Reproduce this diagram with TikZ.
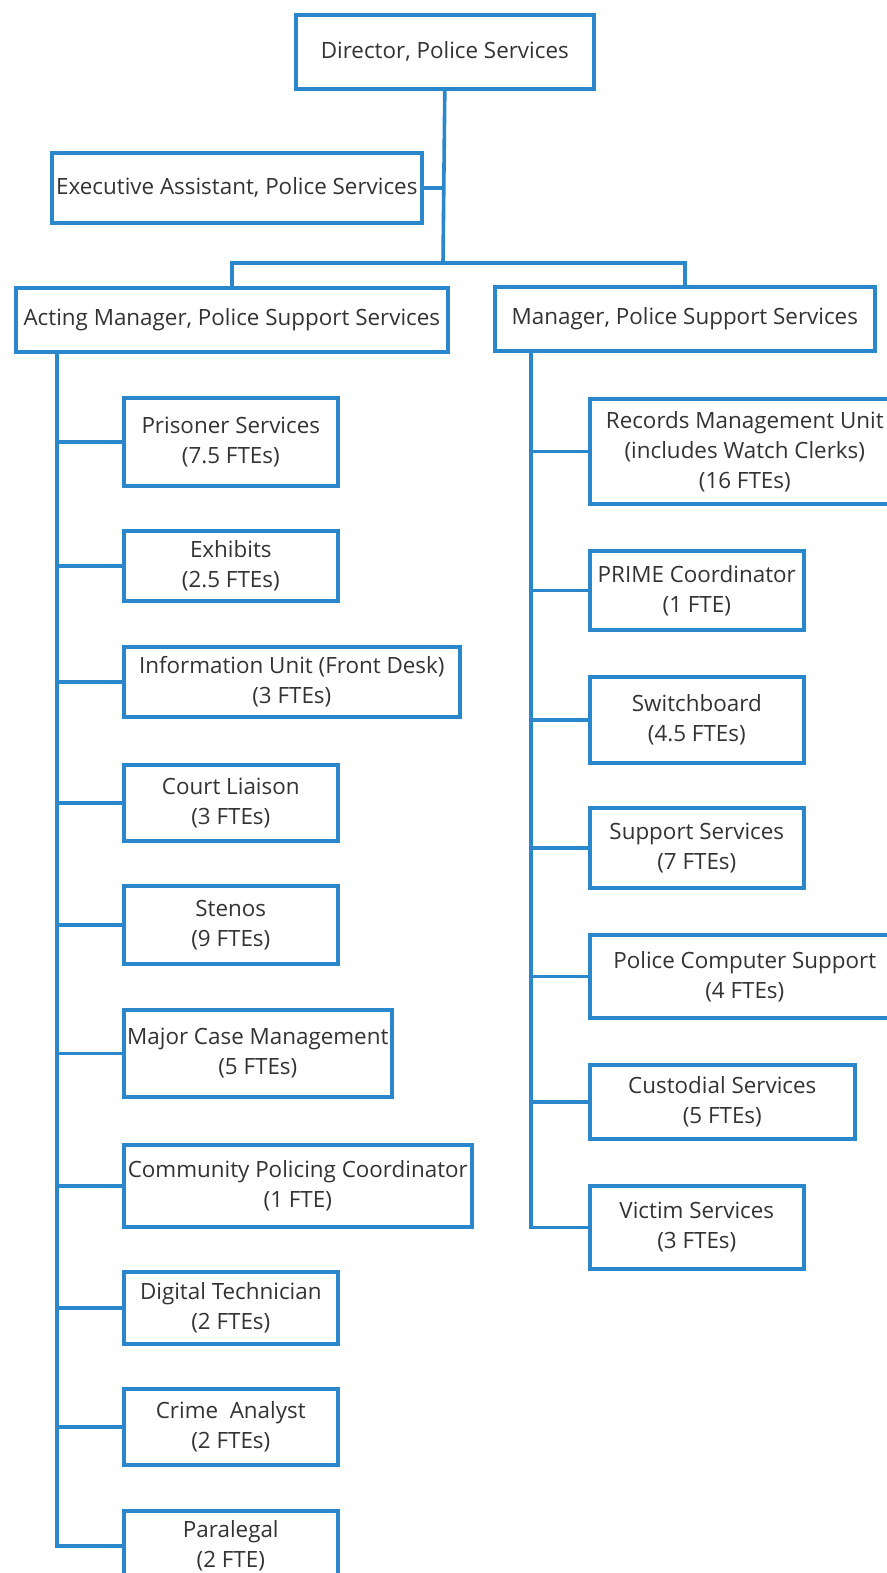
\documentclass[tikz,border=0pt]{standalone}
\usepackage{fontspec}
\setmainfont{Open Sans}
\definecolor{OrgBlue}{RGB}{43,135,203}
\definecolor{OrgInk}{RGB}{51,51,51}
\usetikzlibrary{positioning, calc}
\tikzset{
	unit/.style={draw=OrgBlue, line width=3.6pt, align=center, inner sep=0pt,
		anchor=north west, text=OrgInk, fill=white},
	link/.style={draw=OrgBlue, line width=3.6pt},
}
\begin{document}
\begin{tikzpicture}[x=1pt, y=-1pt, font=\fontsize{22.4}{30}\selectfont]
	\useasboundingbox (0,0) rectangle (886,1573);
	\node[unit, minimum width=298pt, minimum height=74pt] (dir) at (294,13) {Director, Police Services};
	\node[unit, minimum width=370pt, minimum height=70pt] (ea) at (50,151) {Executive Assistant, Police Services};
	\node[unit, minimum width=432pt, minimum height=64pt] (am) at (14,286) {Acting Manager, Police Support Services};
	\node[unit, minimum width=380pt, minimum height=64pt] (mg) at (493,285) {Manager, Police Support Services};
	\coordinate (bar) at (443,263);
	\coordinate (lsp) at (57,350);
	\coordinate (rsp) at (531,349);
	\draw[link] (dir.south) -- (bar);
	\draw[link] (ea.east) -- (ea.east -| bar);
	\draw[link] (am.north) |- (bar) -| (mg.north);
	\foreach \i/\y/\w/\h/\lab in {
		1/396/214/88/{Prisoner Services\\(7.5 FTEs)},
		2/529/214/70/{Exhibits\\(2.5 FTEs)},
		3/645/336/70/{Information Unit (Front Desk)\\(3 FTEs)},
		4/763/214/76/{Court Liaison\\(3 FTEs)},
		5/884/214/78/{Stenos\\(9 FTEs)},
		6/1008/268/87/{Major Case Management\\(5 FTEs)},
		7/1143/348/82/{Community Policing Coordinator\\(1 FTE)},
		8/1270/214/72/{Digital Technician\\(2 FTEs)},
		9/1387/214/76/{Crime~ Analyst\\(2 FTEs)},
		10/1509/214/70/{Paralegal\\(2 FTE)}}{
		\node[unit, minimum width=\w pt, minimum height=\h pt] (l\i) at (122,\y) {\lab};
		\draw[link] (lsp |- l\i.west) -- (l\i.west);
	}
	\foreach \i/\y/\w/\h/\lab in {
		1/397/310/105/{Records Management Unit\\(includes Watch Clerks)\\(16 FTEs)},
		2/549/214/79/{PRIME Coordinator\\(1 FTE)},
		3/675/214/86/{Switchboard\\(4.5 FTEs)},
		4/806/214/80/{Support Services\\(7 FTEs)},
		5/933/310/83/{Police Computer Support\\(4 FTEs)},
		6/1063/265/74/{Custodial Services\\(5 FTEs)},
		7/1184/214/83/{Victim Services\\(3 FTEs)}}{
		\node[unit, minimum width=\w pt, minimum height=\h pt] (r\i) at (588,\y) {\lab};
		\draw[link] (rsp |- r\i.west) -- (r\i.west);
	}
	\draw[link] (lsp) |- (l10.west);
	\draw[link] (rsp) |- (r7.west);
\end{tikzpicture}
\end{document}
